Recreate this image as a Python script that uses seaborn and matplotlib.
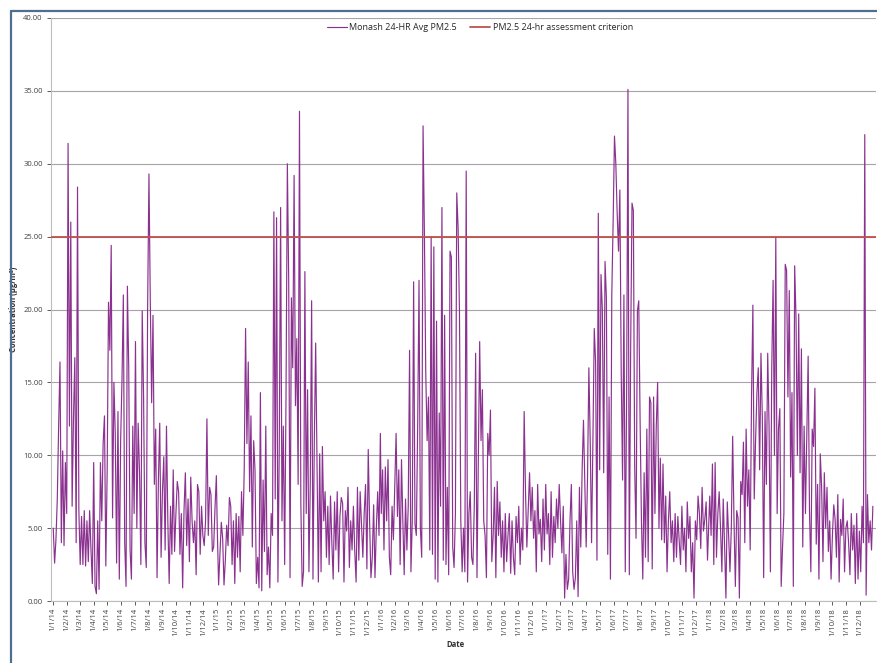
import matplotlib
matplotlib.use("Agg")
import matplotlib.pyplot as plt
import matplotlib.dates as mdates
from matplotlib.lines import Line2D
from matplotlib.ticker import FuncFormatter, FixedLocator
import seaborn as sns
import pandas as pd

pm_2014 = [5.0, 2.6, 4.2, 7.0, 12.0, 16.4, 4.0, 10.3, 3.8, 9.5, 6.0,
           31.4, 12.0, 26.0, 6.5, 12.5, 16.7, 4.0, 28.4, 6.2, 2.5,
           5.8, 2.5, 6.2, 2.4, 5.5, 2.7, 6.2, 3.5, 1.2, 9.5,
           1.0, 0.5, 5.5, 0.8, 9.5, 5.5, 10.8, 12.7, 2.4, 8.9,
           20.5, 17.2, 24.4, 5.7, 15.0, 11.5, 2.6, 13.0, 1.5, 11.0,
           15.2, 21.0, 4.0, 1.0, 21.6, 16.0, 3.5, 1.5, 12.0, 6.0,
           17.8, 5.0, 12.2, 8.8, 2.5, 19.9, 14.1, 4.0, 2.3, 20.0, 29.3,
           20.5, 13.6, 19.6, 8.0, 11.8, 1.6, 8.3, 12.2, 3.0, 7.5,
           9.9, 3.5, 12.0, 5.5, 1.2, 6.5, 3.2, 9.0, 3.4, 6.0,
           8.2, 7.5, 3.2, 6.0, 0.9, 6.2, 8.8, 3.8, 7.0, 2.7,
           8.5, 5.5, 4.0, 5.5, 1.8, 8.0, 7.5, 3.2, 6.5, 4.5,
           3.8, 5.5, 12.5, 4.5, 7.8, 7.3, 3.4, 3.7, 6.4, 8.6]
pm_2015 = [5.0, 1.1, 3.2, 5.4, 4.3, 1.1, 2.8, 5.2, 3.8, 7.1, 6.5,
           2.5, 5.5, 1.2, 6.0, 3.0, 5.8, 2.0, 7.5, 4.5, 9.0,
           18.7, 10.8, 16.4, 7.5, 12.7, 3.7, 11.0, 9.0, 1.2, 3.0,
           0.9, 14.3, 0.7, 8.3, 3.4, 12.0, 1.8, 3.7, 0.9, 6.0,
           4.5, 26.7, 7.0, 26.3, 1.3, 10.5, 27.0, 5.5, 12.0, 2.5,
           14.0, 30.0, 22.0, 1.6, 20.8, 16.0, 29.2, 13.4, 18.0, 8.0,
           33.6, 6.7, 1.0, 2.0, 22.6, 6.0, 14.5, 2.0, 8.0, 20.6, 1.5,
           11.0, 17.7, 9.5, 1.3, 10.1, 2.0, 10.6, 5.5, 7.5, 3.0,
           6.5, 2.5, 7.2, 4.0, 1.5, 6.8, 3.5, 7.5, 2.0, 5.8,
           7.1, 6.7, 1.3, 6.2, 4.8, 7.8, 2.3, 5.5, 3.5, 6.5,
           3.4, 1.3, 7.8, 2.8, 7.5, 5.2, 3.0, 6.0, 8.0, 2.2,
           10.4, 5.5, 1.6, 3.0, 6.6, 1.6, 5.0, 7.5, 4.5, 11.5]
pm_2016 = [6.0, 9.0, 3.5, 9.2, 5.5, 9.7, 3.0, 1.8, 6.5, 4.2, 8.0,
           11.5, 5.8, 9.0, 2.5, 9.7, 5.5, 1.8, 7.0, 3.5, 6.5,
           17.2, 2.0, 5.5, 21.9, 5.3, 4.5, 12.0, 22.0, 5.0, 3.0,
           32.6, 25.2, 15.7, 11.0, 14.0, 3.5, 25.0, 3.2, 24.3, 1.5,
           19.2, 1.3, 12.9, 6.5, 27.0, 2.8, 19.6, 2.5, 7.8, 1.8,
           24.0, 23.6, 3.7, 2.3, 6.0, 28.0, 25.6, 19.9, 5.5, 2.0,
           5.0, 2.0, 29.5, 1.3, 6.0, 7.5, 3.0, 2.5, 6.5, 17.0, 1.6,
           10.0, 17.8, 11.0, 14.5, 5.5, 4.5, 1.6, 11.5, 10.0, 13.1,
           2.7, 4.5, 7.8, 1.6, 8.2, 4.5, 6.8, 3.0, 5.5, 2.0,
           6.0, 2.7, 4.5, 6.0, 1.9, 5.5, 3.0, 1.8, 5.8, 4.0,
           6.5, 2.5, 5.0, 3.5, 13.0, 7.5, 3.7, 6.2, 8.8, 5.5,
           7.8, 4.3, 6.2, 2.0, 8.0, 4.6, 5.6, 2.7, 7.0, 3.5]
pm_2017 = [8.0, 4.6, 6.0, 2.5, 7.5, 3.0, 5.8, 4.0, 7.0, 5.0, 8.0,
           5.5, 3.3, 6.5, 0.2, 3.2, 0.8, 1.5, 5.5, 8.0, 2.0,
           0.8, 1.6, 5.5, 0.3, 7.8, 3.7, 9.0, 12.4, 8.0, 3.7,
           8.5, 16.0, 11.0, 4.0, 11.0, 18.7, 16.4, 2.8, 26.6, 9.0,
           22.4, 20.0, 8.8, 23.3, 20.8, 3.2, 14.0, 1.5, 21.0, 26.0,
           31.9, 30.0, 26.6, 24.0, 28.2, 15.7, 8.3, 21.0, 2.0, 14.0,
           35.1, 1.8, 17.3, 27.3, 26.8, 9.1, 4.3, 19.9, 20.6, 12.4, 5.5,
           1.5, 8.8, 3.0, 11.8, 2.7, 14.0, 13.6, 2.2, 14.0, 6.0,
           12.0, 15.0, 5.0, 9.8, 4.2, 9.4, 4.0, 7.2, 2.0, 5.5,
           7.5, 4.0, 5.5, 2.7, 6.0, 3.0, 5.8, 4.2, 2.5, 6.5,
           3.5, 5.0, 2.0, 6.8, 4.3, 5.8, 2.0, 4.0, 0.2, 5.5,
           4.2, 7.2, 6.0, 3.6, 7.8, 4.8, 5.6, 6.8, 2.8, 5.5]
pm_2018 = [7.2, 4.5, 9.4, 2.5, 9.5, 3.0, 6.0, 7.5, 5.0, 2.0, 7.0,
           3.8, 0.2, 6.8, 4.5, 2.0, 5.0, 11.3, 5.5, 1.0, 6.2,
           5.7, 0.2, 8.2, 7.3, 10.9, 4.0, 11.8, 6.5, 9.0, 3.5,
           14.0, 20.3, 7.0, 11.0, 14.3, 16.0, 9.0, 17.0, 12.6, 1.6,
           13.0, 8.0, 17.0, 12.0, 2.0, 16.0, 22.0, 10.0, 25.0, 6.0,
           11.8, 13.2, 1.0, 3.7, 6.0, 23.1, 22.7, 14.0, 21.3, 8.5,
           14.3, 1.0, 23.0, 19.4, 10.0, 19.7, 8.8, 17.3, 3.7, 12.0, 6.0,
           11.3, 16.8, 6.2, 2.0, 11.8, 10.6, 14.6, 3.9, 8.0, 1.5,
           10.1, 7.8, 2.7, 8.8, 5.0, 7.8, 3.4, 5.5, 1.5, 4.5,
           6.6, 5.6, 3.0, 7.3, 1.3, 5.6, 4.5, 7.0, 2.0, 5.0,
           5.5, 4.0, 1.8, 6.0, 3.5, 5.2, 1.2, 6.0, 1.5, 4.8,
           2.0, 6.5, 4.0, 32.0, 0.4, 7.3, 4.0, 5.5, 3.5, 6.5]

years = [2014, 2015, 2016, 2017, 2018]
criterion = 25.0
y_ticks = [0, 5, 10, 15, 20, 25, 30, 35, 40]
month_ticks = pd.date_range("2014-01-01", "2018-12-01", freq="MS")
series_label = "Monash 24-HR Avg PM2.5"
criterion_label = "PM2.5 24-hr assessment criterion"

frames = []
for year, vals in zip(years, [pm_2014, pm_2015, pm_2016, pm_2017, pm_2018]):
    dates = pd.date_range(f"{year}-01-01", periods=len(vals), freq="3D")
    frames.append(pd.DataFrame({"Date": dates, "PM25": vals}))
df = pd.concat(frames, ignore_index=True)

sns.set_style("white")
plt.rcParams["font.family"] = ["Open Sans", "DejaVu Sans"]

W, H = 877, 663
fig = plt.figure(figsize=(W / 100, H / 100), dpi=100)
L, R, T, B = 51, 876, 18, 601
ax = fig.add_axes([L / W, 1 - B / H, (R - L) / W, (B - T) / H])

sns.lineplot(data=df, x="Date", y="PM25", ax=ax, color="#8b3290", lw=0.85,
             estimator=None, label=series_label, legend=False, zorder=3)
ax.axhline(criterion, color="#c0504d", lw=1.3, label=criterion_label, zorder=4)

ax.set_ylim(0, 40)
ax.set_yticks(y_ticks)
ax.yaxis.set_major_formatter(FuncFormatter(lambda v, p: f"{v:.2f}"))
ax.set_xlim(pd.Timestamp("2013-12-27"), pd.Timestamp("2019-01-06"))
ax.xaxis.set_major_locator(FixedLocator(mdates.date2num(month_ticks)))
ax.xaxis.set_major_formatter(FuncFormatter(
    lambda v, p: (lambda d: f"{d.day}/{d.month}/{d.year % 100:02d}")(mdates.num2date(v))))

ax.grid(axis="y", color="#a9a2aa", lw=0.8)
ax.grid(axis="x", visible=False)
for s in ["top", "right"]:
    ax.spines[s].set_visible(False)
for s in ["left", "bottom"]:
    ax.spines[s].set_color("#bdbdbd")
    ax.spines[s].set_linewidth(0.8)

ax.tick_params(axis="x", labelsize=5.5, rotation=90, colors="#404040",
               length=3, width=0.6, direction="out", bottom=True, pad=2)
ax.tick_params(axis="y", labelsize=5.5, colors="#404040", length=3, width=0.6,
               left=True, pad=3)

ax.set_xlabel("Date", fontsize=5.5, fontweight="bold", color="#303030")
ax.set_ylabel("Concentration (µg/m³)", fontsize=5.5, fontweight="bold", color="#303030")
ax.xaxis.set_label_coords((455 - L) / (R - L), -(640 - B) / (B - T))
ax.yaxis.set_label_coords(-(L - 18) / (R - L), 0.5)

ax.legend(loc="center", bbox_to_anchor=((480 - L) / (R - L), (B - 28) / (B - T)),
          ncol=2, frameon=False, fontsize=6.5, handlelength=2.2,
          columnspacing=1.5, handletextpad=0.3)

# screenshot frame
fig.add_artist(Line2D([11 / W, 11 / W], [0, 1 - 11 / H], transform=fig.transFigure,
                      color="#4f6f8f", lw=1.6))
fig.add_artist(Line2D([11 / W, 1], [1 - 11 / H, 1 - 11 / H], transform=fig.transFigure,
                      color="#4f6f8f", lw=1.6))

fig.savefig("out.png", dpi=100)
